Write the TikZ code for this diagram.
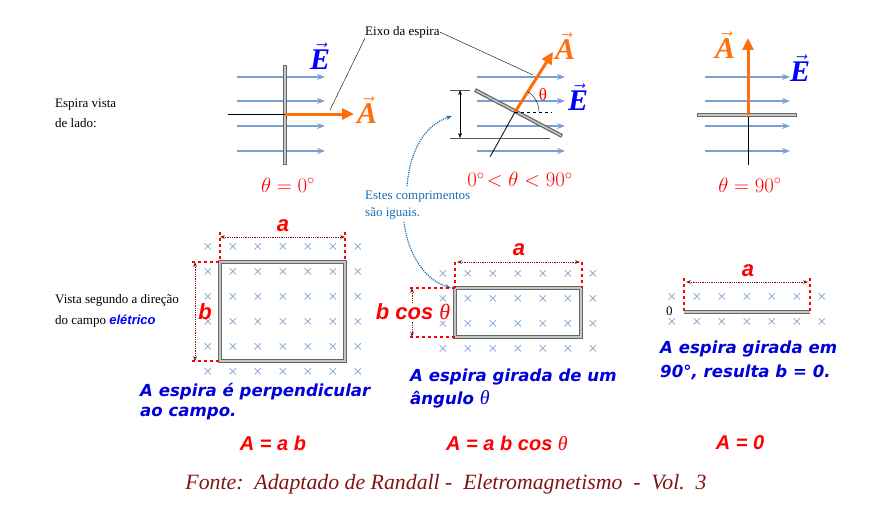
\documentclass[tikz,border=0pt]{standalone}
\usepackage{fontspec}
\setmainfont{Liberation Serif}
\newfontfamily\capfont{DejaVu Sans}
\newfontfamily\lblfont{Liberation Sans}
\usetikzlibrary{arrows.meta}
\definecolor{fieldblue}{RGB}{120,160,210}
\definecolor{vecorange}{RGB}{255,110,10}
\definecolor{noteblue}{RGB}{30,110,180}
\definecolor{dimred}{RGB}{130,20,20}
\definecolor{fonte}{RGB}{130,20,20}
\tikzset{
  fieldline/.style={fieldblue, line width=1.6pt, -{Stealth[length=8pt]}},
  plate/.style={draw=gray!80!black, line width=4pt},
  platein/.style={draw=gray!45, line width=1.5pt},
  vecA/.style={vecorange, line width=3pt, -{Triangle[length=12pt,width=11pt]}},
  cross/.style={fieldblue, font=\fontsize{17}{17}\selectfont},
  redcut/.style={red, dashed, line width=1.3pt},
  dimline/.style={dimred, densely dotted, thick, {Stealth[length=5pt]}-{Stealth[length=5pt]}},
  caption/.style={blue!85!black, font=\capfont\bfseries\itshape\fontsize{16.6}{19}\selectfont, anchor=west, inner sep=0},
  redlbl/.style={red, font=\lblfont\bfseries\itshape\fontsize{22}{24}\selectfont},
  eqlbl/.style={red, font=\lblfont\bfseries\itshape\fontsize{20}{22}\selectfont},
  theta/.style={red, font=\fontsize{22}{23}\selectfont},
  note/.style={font=\fontsize{13}{15}\selectfont, anchor=west, inner sep=0},
}
\newcommand{\vE}{\textcolor{blue}{\fontsize{30}{30}\selectfont$\vec{\textbf{\textit{E}}}$}}
\newcommand{\vA}{\textcolor{vecorange}{\fontsize{30}{30}\selectfont$\vec{\textbf{\textit{A}}}$}}
\begin{document}
\begin{tikzpicture}[x=1pt,y=-1pt]
\useasboundingbox (0,0) rectangle (882,508);
% side view, theta = 0
\foreach \y in {77,101,126,151} \draw[fieldline] (237,\y) -- (325,\y);
\draw[plate] (285,65) -- (285,165);
\draw[platein] (285,66) -- (285,164);
\coordinate (c0) at (285,114);
\draw[thick] (228,114) -- (c0);
\draw[vecA] (c0) -- (354,114);
\node (E0) at (320,56) {\vE};
\node (A0) at (367,110) {\vA};
\node[theta] (t0) at (288,185) {$\theta = 0^\circ$};
% side view, tilted
\foreach \y in {77,101,126,151} \draw[fieldline] (477,\y) -- (565,\y);
\draw[thick, gray!70!black] (450,90) -- (470,90);
\draw[thick, gray!70!black] (450,138) -- (550,138);
\draw[plate] (475,90) -- (562,136);
\draw[platein] (476,90.5) -- (561,135.5);
\coordinate (c1) at (515,112);
\draw[thick] (490,157) -- (c1);
\draw[vecA] (c1) -- (553,52);
\draw[thick, dashed] (c1) -- (552,112);
\draw (539,112) arc[start angle=0, end angle=-58, radius=24];
\node[red, font=\fontsize{17}{17}\selectfont] (th) at (543,95) {θ};
\draw[{Stealth[length=5pt]}-{Stealth[length=5pt]}] (460,90) -- (460,138);
\node (E1) at (578,97) {\vE};
\node (A1) at (565,46) {\vA};
\node[theta] (t1) at (520,180) {$0^\circ\!< \theta < 90^\circ$};
% side view, theta = 90
\foreach \y in {77,101,126,151} \draw[fieldline] (705,\y) -- (790,\y);
\coordinate (c2) at (748,115);
\draw[thick] (c2) -- (748,165);
\draw[plate] (697,115) -- (797,115);
\draw[platein] (698,115) -- (796,115);
\draw[vecA] (c2) -- (748,38);
\node (A2) at (725,45) {\vA};
\node (E2) at (800,68) {\vE};
\node[theta] (t2) at (750,185) {$\theta = 90^\circ$};
% axis label
\node[note] (eixo) at (365,32) {Eixo da espira};
\draw (eixo.south west) -- (330,110);
\draw (eixo.east) -- (533,75);
\node[note] (side) at (55,105) {Espira vista};
\node[note] at (55,123) {de lado:};
\node[note, noteblue] (iguais) at (365,197) {Estes comprimentos};
\node[note, noteblue] at (365,214) {são iguais.};
\draw[noteblue, densely dotted, very thick, -{Stealth[length=6pt]}] (407,186) .. controls (410,150) and (425,125) .. (452,116);
\draw[noteblue, densely dotted, very thick, -{Stealth[length=6pt]}] (404,222) .. controls (408,255) and (425,280) .. (451,288);
% front view, left
\foreach \x in {208,233,...,358} \foreach \y in {248,273,...,373} \node[cross] at (\x,\y) {×};
\fill[white] (220,262) rectangle (345,361);
\foreach \x in {233,258,...,333} \foreach \y in {273,298,...,348} \node[cross] at (\x,\y) {×};
\draw[plate] (220,262) rectangle (345,361);
\draw[platein] (220,262) rectangle (345,361);
\draw[redcut] (220,232) -- (220,262);
\draw[redcut] (345,232) -- (345,262);
\draw[dimline] (220,237) -- (345,237);
\node[redlbl] (aL) at (283,226) {a};
\draw[redcut] (192,262) -- (220,262);
\draw[redcut] (192,361) -- (220,361);
\draw[dimline] (195,262) -- (195,361);
\node[redlbl] (bL) at (205,312) {b};
% front view, middle
\foreach \x in {443,468,...,593} \foreach \y in {275,300,325,350} \node[cross] at (\x,\y) {×};
\fill[white] (455,288) rectangle (581,337);
\foreach \x in {468,493,...,568} \foreach \y in {300,325} \node[cross] at (\x,\y) {×};
\draw[plate] (455,288) rectangle (581,337);
\draw[platein] (455,288) rectangle (581,337);
\draw[redcut] (455,262) -- (455,288);
\draw[redcut] (582,262) -- (582,288);
\draw[dimline] (457,262) -- (580,262);
\node[redlbl] (aM) at (519,250) {a};
\draw[redcut] (410,288) -- (455,288);
\draw[redcut] (410,337) -- (455,337);
\draw[dimline] (412,288) -- (412,337);
\node[redlbl, fill=white, inner sep=1pt] (bM) at (413,312) {b cos {\fontspec{Liberation Serif}\mdseries\itshape θ}};
% front view, right
\foreach \x in {672,697,...,822} \foreach \y in {298,323} \node[cross] at (\x,\y) {×};
\draw[plate] (684,312) -- (810,312);
\draw[platein] (684,312) -- (810,312);
\node[note] (zero) at (666,311) {0};
\draw[redcut] (684,278) -- (684,312);
\draw[redcut] (810,278) -- (810,312);
\draw[dimline] (686,282) -- (808,282);
\node[redlbl] (aR) at (748,271) {a};
\node[note] (front) at (55,300) {Vista segundo a direção};
\node[note] at (55,321) {do campo \textcolor{blue}{\lblfont\bfseries\itshape elétrico}};
% captions
\node[caption] (capL) at (140,392) {A espira é perpendicular};
\node[caption] at (140,414) {ao campo.};
\node[caption] (capM) at (410,377) {A espira girada de um};
\node[caption] at (410,399) {ângulo {\fontspec{Liberation Serif}\mdseries\itshape\fontsize{20}{20}\selectfont θ}};
\node[caption] (capR) at (660,349) {A espira girada em};
\node[caption] at (660,372) {90°, resulta b = 0.};
\node[eqlbl] (AL) at (273,443) {A = a b};
\node[eqlbl] (AM) at (507,443) {A = a b cos {\fontspec{Liberation Serif}\mdseries θ}};
\node[eqlbl] (AR) at (740,443) {A = 0};
\node[fonte, font=\itshape\fontsize{21.8}{23}\selectfont] (src) at (446,484) {Fonte:\ \ Adaptado de Randall -\ \ Eletromagnetismo\ \ -\ \ Vol.\ \ 3};
\end{tikzpicture}
\end{document}
